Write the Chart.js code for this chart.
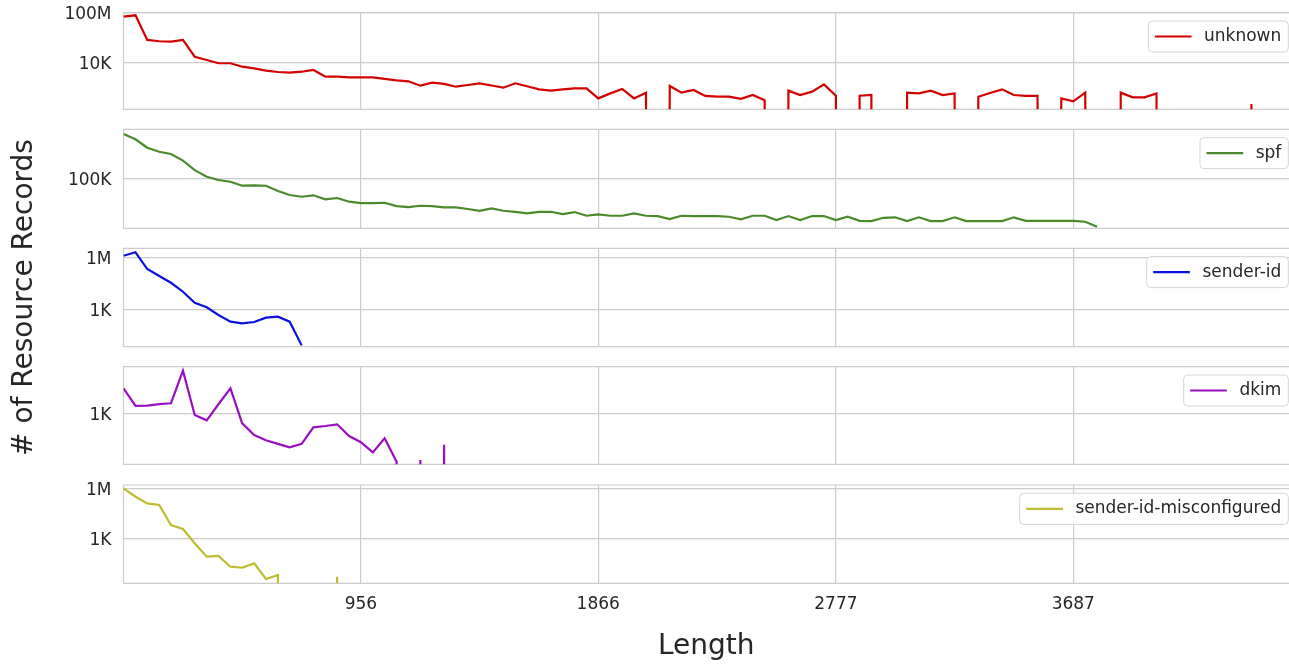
<!DOCTYPE html>
<html><head><meta charset="utf-8">
<script src="https://cdn.jsdelivr.net/npm/chart.js@4.4.1/dist/chart.umd.min.js"></script>
<style>
html,body{margin:0;padding:0;background:#fff;overflow:hidden;}
#wrap{position:relative;width:1289px;height:664px;background:#fff;}
#wrap canvas{position:absolute;left:0;top:0;}
</style></head><body><div id="wrap">
<canvas id="c0" width="1289" height="664"></canvas>
<canvas id="c1" width="1289" height="664"></canvas>
<canvas id="c2" width="1289" height="664"></canvas>
<canvas id="c3" width="1289" height="664"></canvas>
<canvas id="c4" width="1289" height="664"></canvas>
</div>
<script>
// ---- data (bin start lengths and counts per bin) ----
const lengths = [46, 92, 137, 183, 228, 274, 319, 365, 410, 456, 501, 547, 592, 638, 683, 729, 774, 820, 865, 911,
  956, 1002, 1047, 1093, 1138, 1184, 1229, 1275, 1320, 1366, 1411, 1457, 1502, 1548, 1593, 1639, 1684, 1730, 1775, 1821,
  1866, 1912, 1958, 2003, 2049, 2094, 2140, 2185, 2231, 2276, 2322, 2367, 2413, 2458, 2504, 2549, 2595, 2640, 2686, 2731,
  2777, 2822, 2868, 2913, 2959, 3004, 3050, 3095, 3141, 3186, 3232, 3277, 3323, 3368, 3414, 3459, 3505, 3550, 3596, 3641,
  3687, 3733, 3778, 3824, 3869, 3915, 3960, 4006, 4051, 4097, 4142, 4188, 4233, 4279, 4324, 4370, 4415, 4461, 4506, 4552];

const unknown = [48000000, 62000000, 660000, 520000, 480000, 660000, 30000, 16500, 9000, 9000,
  4800, 3550, 2300, 1800, 1600, 1900, 2600, 760, 760, 680,
  680, 680, 500, 390, 325, 145, 250, 200, 120, 165,
  225, 150, 100, 225, 130, 74, 58, 74, 89, 89,
  14, 35, 79, 14, 40, 0, 137, 40, 66, 22,
  19, 19, 13, 26, 10, 0, 58, 26, 48, 186,
  23, 0, 23, 26, 0, 0, 40, 35, 58, 26,
  35, 0, 19, 38, 74, 26, 22, 22, 0, 14,
  8, 40, 0, 0, 40, 17, 17, 35, 0, 0,
  0, 0, 0, 0, 0, 5, 0];

const spf = [547000, 447000, 324000, 277000, 254000, 197000, 137000, 106000, 93700, 87800,
  75300, 76400, 75300, 61400, 52700, 49300, 52100, 44700, 47000, 40800,
  38700, 38700, 39200, 34500, 33200, 34900, 34500, 32900, 32900, 30800,
  28800, 31600, 28800, 27700, 26100, 27700, 27700, 25400, 27400, 23800,
  25100, 23800, 23800, 26100, 23800, 23500, 21000, 23800, 23500, 23500,
  23500, 22900, 20700, 23800, 23800, 20200, 23500, 20200, 23500, 23500,
  20200, 22900, 19600, 19400, 22000, 22400, 19400, 22400, 19400, 19400,
  22400, 19400, 19400, 19400, 19400, 22400, 19600, 19600, 19600, 19600,
  19600, 18900, 15600];

const senderId = [1310000, 2060000, 220000, 86000, 35000, 10500, 2400, 1300, 467, 190, 153, 183, 325, 372, 190, 8];

const dkim = [29500, 2700, 2800, 3500, 3900, 321000, 794, 387, 3400, 29500,
  257, 53, 26, 16, 10, 16, 150, 179, 225, 46,
  20, 5, 34, 1.4, 0, 1.8, 0, 14, 0];

const senderIdMisconfigured = [1000000, 318000, 129000, 103000, 6700, 3900, 557, 90, 99, 23,
  20, 36, 4.3, 7.4, 0, 0, 0, 0, 5.9, 0];

const xTickValues = [956, 1866, 2777, 3687];
const xTickLabels = ['956', '1866', '2777', '3687'];

const unknownTicks = [1e4, 1e8];
const unknownTickLabels = ['10K', '100M'];
const spfTicks = [1e5];
const spfTickLabels = ['100K'];
const senderIdTicks = [1e3, 1e6];
const senderIdTickLabels = ['1K', '1M'];
const dkimTicks = [1e3];
const dkimTickLabels = ['1K'];
const misTicks = [1e3, 1e6];
const misTickLabels = ['1K', '1M'];

// ---- styling / layout ----
const W = 1289, H = 664;
const GRID = '#cccccc';
const TXT = '#262626';
const FONT = 'DejaVu Sans';

const panels = [
  {id: 'c0', label: 'unknown', values: unknown, color: '#d40000', min: 1.87, max: 1e8, ticks: unknownTicks, tickLabels: unknownTickLabels, top: 12.7, bottom: 109.3},
  {id: 'c1', label: 'spf', values: spf, color: '#4b8a2a', min: 14700, max: 656000, ticks: spfTicks, tickLabels: spfTickLabels, top: 129.3, bottom: 228.3},
  {id: 'c2', label: 'sender-id', values: senderId, color: '#0a12dc', min: 6.7, max: 3520000, ticks: senderIdTicks, tickLabels: senderIdTickLabels, top: 248.3, bottom: 346.7},
  {id: 'c3', label: 'dkim', values: dkim, color: '#9a10c0', min: 1, max: 550000, ticks: dkimTicks, tickLabels: dkimTickLabels, top: 366.7, bottom: 464.3},
  {id: 'c4', label: 'sender-id-misconfigured', values: senderIdMisconfigured, color: '#bdbd30', min: 2.4, max: 1570000, ticks: misTicks, tickLabels: misTickLabels, top: 485, bottom: 583.3}
];

const framePlugin = {
  id: 'frame',
  beforeDatasetsDraw(chart) {
    const {ctx, chartArea: a} = chart;
    ctx.save();
    ctx.strokeStyle = GRID;
    ctx.lineWidth = 1.2;
    ctx.beginPath();
    ctx.moveTo(a.right, a.top); ctx.lineTo(a.left, a.top);
    ctx.lineTo(a.left, a.bottom); ctx.lineTo(a.right, a.bottom);
    ctx.stroke();
    ctx.restore();
  }
};

const legendPlugin = {
  id: 'boxLegend',
  afterDatasetsDraw(chart) {
    const {ctx, chartArea: a} = chart;
    const ds = chart.data.datasets[0];
    ctx.save();
    ctx.font = '17px "' + FONT + '"';
    const tw = ctx.measureText(ds.label).width;
    const h = 31;
    const w = 6.5 + 36.7 + 12.5 + tw + 7;
    const right = 1288.3;
    const x = right - w;
    const y = a.top + 8.3;
    ctx.beginPath();
    ctx.roundRect(x, y, w, h, 4);
    ctx.fillStyle = 'rgba(255,255,255,0.85)';
    ctx.fill();
    ctx.strokeStyle = '#d5d5d5';
    ctx.lineWidth = 1;
    ctx.stroke();
    const cy = y + h / 2;
    ctx.beginPath();
    ctx.moveTo(x + 6.5, cy); ctx.lineTo(x + 43.2, cy);
    ctx.strokeStyle = ds.borderColor;
    ctx.lineWidth = 2.2;
    ctx.stroke();
    ctx.fillStyle = TXT;
    ctx.textBaseline = 'middle';
    ctx.textAlign = 'left';
    ctx.fillText(ds.label, x + 55.7, cy);
    ctx.restore();
  }
};

panels.forEach((p, i) => {
  const last = i === panels.length - 1;
  new Chart(document.getElementById(p.id), {
    type: 'line',
    data: {
      datasets: [{
        label: p.label,
        // zero counts are drawn like matplotlib's log "clip": far below the axis
        data: p.values.map((v, k) => ({x: lengths[k], y: v > 0 ? v : 1e-300})),
        borderColor: p.color,
        borderWidth: 2.2,
        pointRadius: 0,
        tension: 0,
        fill: false
      }]
    },
    options: {
      responsive: false,
      animation: false,
      devicePixelRatio: 1,
      events: [],
      layout: {padding: {top: p.top, bottom: last ? 0 : H - p.bottom, left: 0, right: 0}},
      plugins: {legend: {display: false}, tooltip: {enabled: false}},
      scales: {
        x: {
          type: 'linear', min: 46, max: 4514,
          afterBuildTicks: s => { s.ticks = xTickValues.map(v => ({value: v})); },
          afterFit: s => {
            s.height = last ? H - p.bottom : 0;
            s.paddingLeft = 0; s.paddingRight = 0; s.paddingTop = 0; s.paddingBottom = 0;
          },
          grid: {color: GRID, lineWidth: 1.2, drawTicks: false},
          border: {display: false},
          ticks: {display: last, autoSkip: false, maxRotation: 0, padding: 11,
            font: {family: FONT, size: 17}, color: TXT,
            callback: (v, idx) => xTickLabels[idx]},
          title: last ? {display: true, text: 'Length', color: TXT,
            font: {family: FONT, size: 28}, padding: {top: 0, bottom: 0}} : {display: false}
        },
        y: {
          type: 'logarithmic', min: p.min, max: p.max,
          afterBuildTicks: s => { s.ticks = p.ticks.map(v => ({value: v})); },
          afterFit: s => {
            s.width = 123.5;
            s.paddingLeft = 0; s.paddingRight = 0; s.paddingTop = 0; s.paddingBottom = 0;
          },
          grid: {color: GRID, lineWidth: 1.2, drawTicks: false},
          border: {display: false},
          ticks: {autoSkip: false, padding: 12, labelOffset: 2,
            font: {family: FONT, size: 17}, color: TXT,
            callback: (v, idx) => p.tickLabels[idx]},
          title: i === 2 ? {display: true, text: '# of Resource Records', color: TXT,
            font: {family: FONT, size: 28}, padding: {top: 8, bottom: 0}} : {display: false}
        }
      }
    },
    plugins: [framePlugin, legendPlugin]
  });
});
</script></body></html>
